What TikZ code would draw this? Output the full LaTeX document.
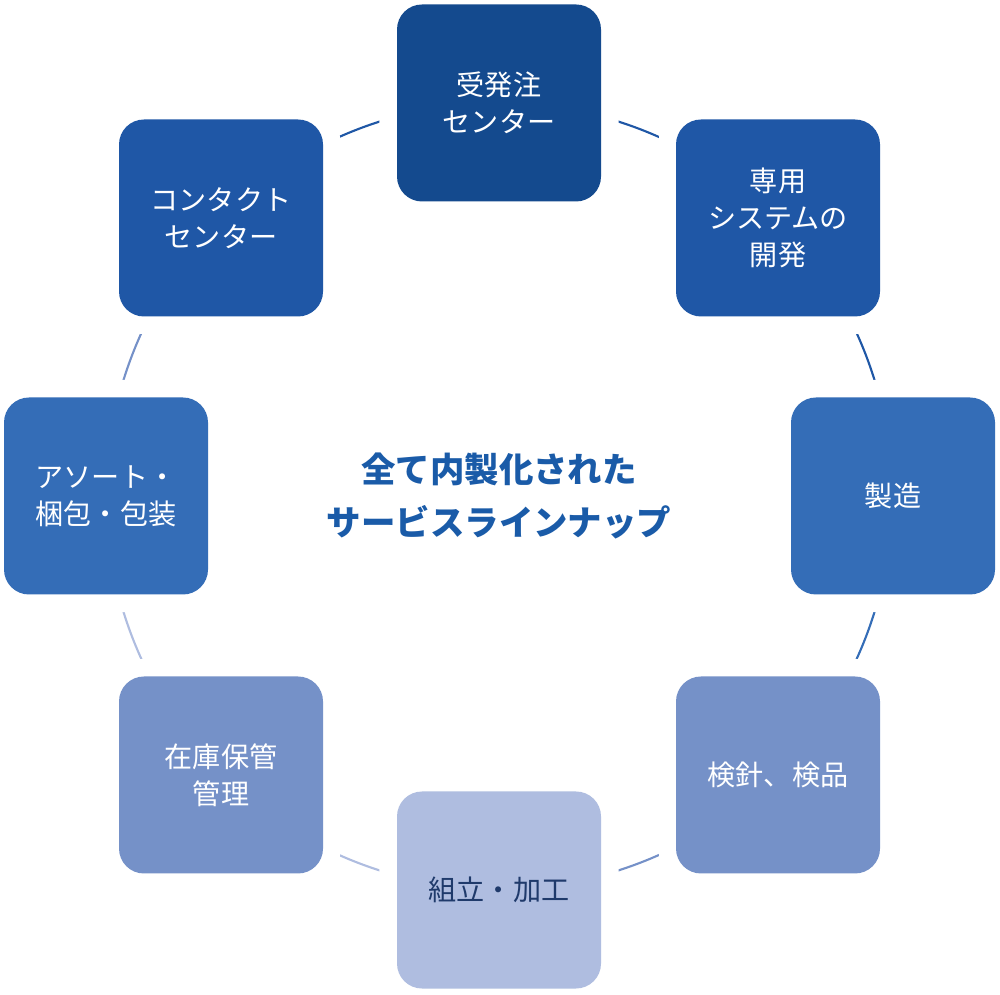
\documentclass[tikz,border=0pt]{standalone}
\usepackage{fontspec}
\setmainfont{Noto Sans CJK JP}
\usetikzlibrary{positioning,calc}
\definecolor{navyA}{HTML}{144A8E}
\definecolor{blueB}{HTML}{1F57A6}
\definecolor{blueC}{HTML}{346DB7}
\definecolor{blueD}{HTML}{7591C8}
\definecolor{blueE}{HTML}{AFBDE0}
\definecolor{titleblue}{HTML}{1A5BA8}
\definecolor{darktext}{HTML}{1F3A6B}
\tikzset{
  service/.style={rectangle, rounded corners=0.25cm, minimum width=2.04cm,
    minimum height=1.97cm, align=center, text=white,
    font=\fontsize{8}{10.5}\selectfont, preaction={draw=white, line width=10pt}},
  ring/.style={line width=0.6pt}
}
\begin{document}
\begin{tikzpicture}
  \useasboundingbox (0,0) rectangle (10,9.94);
  \coordinate (mid) at (4.99,4.98);

  % ring segments
  \foreach \i/\col in {0/blueB,1/blueB,2/blueC,3/blueD,4/blueE,5/blueE,6/blueD,7/blueB} {
    \draw[ring, \col] ($(mid)+({90-45*\i}:3.93)$) arc[start angle=90-45*\i, end angle=45-45*\i, radius=3.93];
  }

  \node[service, fill=navyA] (order) at (4.99,8.91) {受発注\\センター};
  \node[service, fill=blueB] (system) at (7.78,7.76) {専用\\システムの\\開発};
  \node[service, fill=blueC] (make) at (8.93,4.98) {製造};
  \node[service, fill=blueD] (check) at (7.78,2.19) {検針、検品};
  \node[service, fill=blueE, text=darktext] (assembly) at (4.99,1.04) {組立・加工};
  \node[service, fill=blueD] (stock) at (2.21,2.19) {在庫保管\\管理};
  \node[service, fill=blueC] (pack) at (1.06,4.98) {アソート・\\梱包・包装};
  \node[service, fill=blueB] (contact) at (2.21,7.76) {コンタクト\\センター};

  \node[text=titleblue, align=center, font=\fontsize{9.8}{15}\selectfont\bfseries]
    (title) at (mid) {全て内製化された\\サービスラインナップ};
\end{tikzpicture}
\end{document}
